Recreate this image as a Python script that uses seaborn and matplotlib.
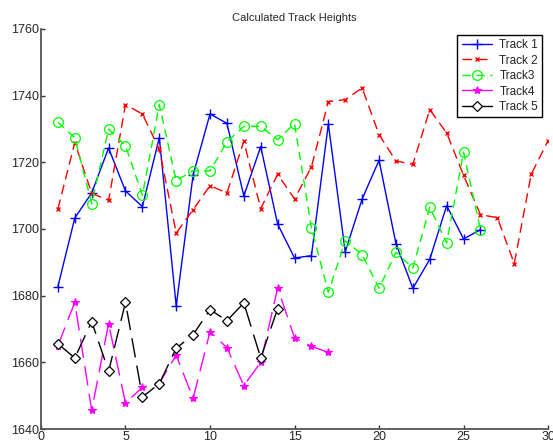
import numpy as np
import pandas as pd
import matplotlib
matplotlib.use('Agg')
import matplotlib.pyplot as plt
import seaborn as sns

# values
track1_x = list(range(1, 27))
track1_y = [1682.7, 1703.3, 1710.8, 1724.3, 1711.4, 1706.7, 1727.4, 1676.9, 1716.2, 1734.5,
            1731.7, 1709.9, 1724.7, 1701.5, 1691.3, 1692.0, 1731.5, 1693.2, 1709.0, 1720.6,
            1695.6, 1682.2, 1690.9, 1707.0, 1697.0, 1699.8]

track2_x = list(range(1, 31))
track2_y = [1706.0, 1725.9, 1710.7, 1708.6, 1737.3, 1734.5, 1723.9, 1698.8, 1705.8, 1713.0,
            1710.8, 1726.3, 1706.1, 1716.4, 1709.0, 1718.6, 1738.2, 1738.8, 1742.3, 1728.3,
            1720.4, 1719.4, 1735.8, 1728.8, 1716.1, 1704.3, 1703.4, 1689.6, 1716.4, 1726.5]

track3_x = list(range(1, 27))
track3_y = [1732.0, 1727.4, 1707.6, 1730.0, 1725.0, 1710.1, 1737.3, 1714.5, 1717.5, 1717.4,
            1726.1, 1730.8, 1730.8, 1726.8, 1731.6, 1700.3, 1681.0, 1696.4, 1692.3, 1682.2,
            1693.0, 1688.3, 1706.5, 1695.8, 1723.0, 1699.8]

track4_x = list(range(1, 18))
track4_y = [1665.0, 1678.0, 1645.6, 1671.6, 1647.8, 1652.5, 1653.8, 1662.1, 1649.2, 1669.2,
            1664.4, 1653.0, 1660.0, 1682.3, 1667.4, 1664.8, 1663.0]

track5_x = list(range(1, 15))
track5_y = [1665.6, 1661.3, 1672.2, 1657.3, 1678.0, 1649.6, 1653.6, 1664.2, 1668.3, 1675.8,
            1672.5, 1677.8, 1661.3, 1676.1]

labels = ['Track 1', 'Track 2', 'Track3', 'Track4', 'Track 5']

sns.set_style('ticks')
plt.rcParams['font.family'] = ['Liberation Sans', 'DejaVu Sans']
plt.rcParams['xtick.direction'] = 'in'
plt.rcParams['ytick.direction'] = 'in'

fig = plt.figure(figsize=(5.53, 4.43), dpi=100)
ax = fig.add_axes([0.0741, 0.0316, 0.917, 0.903])

series = [
    (track1_x, track1_y, dict(color='#0000ff', marker='+', markersize=7.5, markeredgewidth=1,
                              markeredgecolor='#0000ff', linestyle='-')),
    (track2_x, track2_y, dict(color='#ff0000', marker='x', markersize=3.5, markeredgewidth=1,
                              markeredgecolor='#ff0000', linestyle=(0, (7, 4)))),
    (track3_x, track3_y, dict(color='#00ff00', marker='o', markersize=7, markerfacecolor='none',
                              markeredgecolor='#00ff00', markeredgewidth=0.9, linestyle=(0, (6, 4)))),
    (track4_x, track4_y, dict(color='#ff00ff', marker='*', markersize=6, markeredgewidth=0.8,
                              markeredgecolor='#ff00ff', linestyle=(0, (14, 6)))),
    (track5_x, track5_y, dict(color='black', marker='D', markersize=5, markerfacecolor='white',
                              markeredgecolor='black', markeredgewidth=0.9, linestyle=(0, (14, 6)))),
]

for (xs, ys, style), name in zip(series, labels):
    df = pd.DataFrame({'x': xs, 'y': ys})
    sns.lineplot(data=df, x='x', y='y', ax=ax, label=name, linewidth=1, **style)

ax.set_xlim(0, 30)
ax.set_ylim(1640, 1760)
ax.set_xticks(range(0, 31, 5))
ax.set_yticks(range(1640, 1761, 20))
ax.tick_params(labelsize=9, length=3, width=1, color='#333333', pad=1.5)
ax.set_xlabel('')
ax.set_ylabel('')
ax.set_title('Calculated Track Heights', fontsize=8, pad=6)
sns.despine(ax=ax)
for s in ['left', 'bottom']:
    ax.spines[s].set_linewidth(1.3)
    ax.spines[s].set_color('#555555')

leg = ax.legend(loc='upper right', fontsize=8.5, frameon=True, fancybox=False,
                edgecolor='black', handlelength=2.6, borderaxespad=0.5,
                labelspacing=0.3, borderpad=0.35, handletextpad=0.6)
leg.get_frame().set_linewidth(1)
leg.get_frame().set_alpha(1)
for h in leg.get_lines()[3:]:
    h.set_linestyle('-')

fig.savefig('out.png', dpi=100)
